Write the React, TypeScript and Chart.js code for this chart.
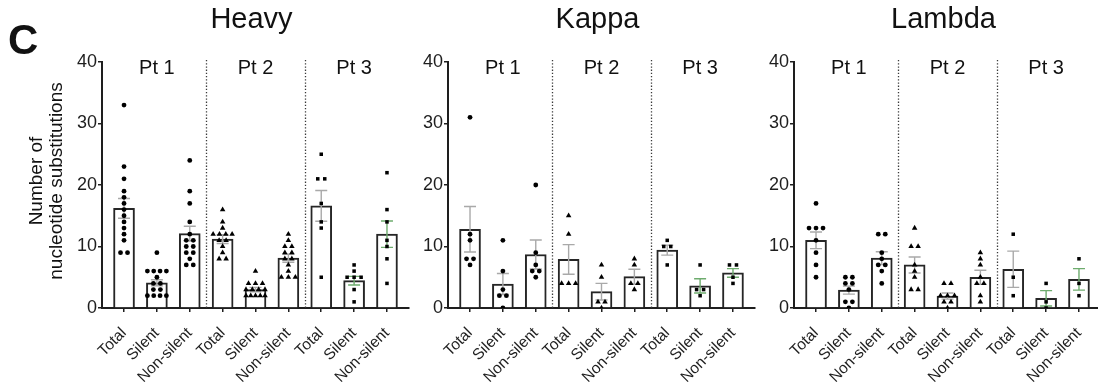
import React, { useEffect, useRef } from 'react';
import { Chart, registerables } from 'chart.js';

Chart.register(...registerables);

// ---------- data ----------
const xLabels = ['Total', 'Silent', 'Non-silent', 'Total', 'Silent', 'Non-silent', 'Total', 'Silent', 'Non-silent'];
const patientLabels = ['Pt 1', 'Pt 2', 'Pt 3'];
const panelTitles = ['Heavy', 'Kappa', 'Lambda'];
const yTicks = [0, 10, 20, 30, 40];
const yTitle = ['Number of', 'nucleotide substitutions'];
const panelLetter = 'C';

// Heavy chain: bar means (mean), SEM, individual sequences per category
const heavyMeans = [16.2, 4.1, 12.1, 11.2, 3.0, 8.1, 16.6, 4.45, 12.0];
const heavySem = [1.6, 0.5, 1.2, 0.7, 0.35, 0.65, 2.5, 0.7, 2.15];
const heavyPoints = [
  [33, 23, 21, 19, 18, 17, 16, 15, 14, 13, 12, 11, 9, 9],
  [9, 6, 6, 6, 6, 5, 4, 4, 3, 3, 2, 2, 2, 2],
  [24, 19, 17, 14, 12, 11, 11, 10, 10, 9, 9, 8, 7, 7],
  [16, 14, 13, 12, 12, 12, 12, 11, 11, 10, 9, 8, 8],
  [6, 4, 4, 4, 3, 3, 3, 3, 2, 2, 2, 2, 2],
  [12, 11, 10, 10, 9, 9, 8, 8, 7, 6, 5, 5, 5],
  [25, 21, 21, 17, 14, 13, 5],
  [7, 6, 5, 5, 5, 3, 1],
  [22, 16, 14, 11, 10, 8, 4],
];

// Kappa chain
const kappaMeans = [12.8, 3.9, 8.7, 7.9, 2.65, 5.1, 9.4, 3.6, 5.7];
const kappaSem = [3.7, 1.7, 2.35, 2.4, 1.35, 1.2, 0.8, 1.15, 0.7];
const kappaPoints = [
  [31, 12, 11, 8, 8, 7],
  [11, 6, 3, 2, 2, 0],
  [20, 9, 7, 6, 6, 5],
  [15, 12, 4, 4, 4],
  [7, 5, 1, 1, 0],
  [8, 7, 4, 4, 3],
  [11, 10, 10, 7],
  [7, 3, 3, 2],
  [7, 7, 5, 4],
];

// Lambda chain
const lambdaMeans = [11.0, 2.9, 8.1, 7.0, 1.95, 5.0, 6.3, 1.57, 4.65];
const lambdaSem = [1.35, 0.65, 1.05, 1.3, 0.5, 1.15, 2.95, 1.25, 1.75];
const lambdaPoints = [
  [17, 13, 13, 13, 11, 9, 7, 5],
  [5, 5, 4, 4, 3, 1, 1, 0],
  [12, 12, 9, 8, 7, 7, 6, 4],
  [13, 10, 10, 7, 6, 5, 3, 3],
  [4, 4, 2, 2, 2, 1, 1, 0],
  [9, 8, 7, 5, 4, 4, 2, 1],
  [12, 5, 2],
  [4, 1, 0],
  [8, 4, 2],
];

const panelMeans = [heavyMeans, kappaMeans, lambdaMeans];
const panelSem = [heavySem, kappaSem, lambdaSem];
const panelPoints = [heavyPoints, kappaPoints, lambdaPoints];

// ---------- style / layout ----------
const FONT = '"Liberation Sans", Arial, Helvetica, sans-serif';
const INK = '#1e1e1e';
const ERR_GRAY = '#a9a9a9';
const ERR_GREEN = '#6eac6e';
const errColors = [ERR_GRAY, ERR_GRAY, ERR_GRAY, ERR_GRAY, ERR_GRAY, ERR_GRAY, ERR_GRAY, ERR_GREEN, ERR_GREEN];
const markerStyles = ['circle', 'triangle', 'rect'];
const markerRadius = [2.4, 3.2, 2.5];
const X_MIN = -0.67;
const X_MAX = 8.67;
const PX_PER_UNIT = 307 / (X_MAX - X_MIN);

const panelGeom = [
  { left: 0, width: 420, yWidth: 102, padRight: 11 },
  { left: 415, width: 350, yWidth: 33, padRight: 10 },
  { left: 762, width: 345, yWidth: 32, padRight: 6 },
];

function swarm(values: number[], cat: number) {
  const counts = new Map<number, number>();
  values.forEach((v) => counts.set(v, (counts.get(v) || 0) + 1));
  const seen = new Map<number, number>();
  return values.map((v) => {
    const n = counts.get(v) as number;
    const k = seen.get(v) || 0;
    seen.set(v, k + 1);
    const stepPx = n > 1 ? Math.min(7, 19 / (n - 1)) : 0;
    return { x: cat + ((k - (n - 1) / 2) * stepPx) / PX_PER_UNIT, y: v };
  });
}

function Panel({ idx }: { idx: number }) {
  const ref = useRef<HTMLCanvasElement>(null);
  useEffect(() => {
    const g = panelGeom[idx];
    const means = panelMeans[idx];
    const sems = panelSem[idx];
    const pts = panelPoints[idx];

    const decor = {
      id: 'decor' + idx,
      beforeDatasetsDraw(chart: any) {
        const { ctx, chartArea, scales } = chart;
        ctx.save();
        ctx.strokeStyle = '#3a3a3a';
        ctx.lineWidth = 1.3;
        ctx.setLineDash([1.3, 1.9]);
        [2.5, 5.5].forEach((v) => {
          const x = Math.round(scales.x.getPixelForValue(v)) + 0.5;
          ctx.beginPath();
          ctx.moveTo(x, 60);
          ctx.lineTo(x, chartArea.bottom);
          ctx.stroke();
        });
        ctx.restore();
      },
      afterDatasetDraw(chart: any, args: any) {
        if (args.index !== 3) return;
        const { ctx, scales } = chart;
        ctx.save();
        ctx.lineWidth = 1.4;
        means.forEach((m, i) => {
          const x = scales.x.getPixelForValue(i);
          const yt = scales.y.getPixelForValue(m + sems[i]);
          const yb = scales.y.getPixelForValue(Math.max(0, m - sems[i]));
          ctx.strokeStyle = errColors[i];
          ctx.beginPath();
          ctx.moveTo(x, yt);
          ctx.lineTo(x, yb);
          ctx.moveTo(x - 6, yt);
          ctx.lineTo(x + 6, yt);
          ctx.moveTo(x - 6, yb);
          ctx.lineTo(x + 6, yb);
          ctx.stroke();
        });
        ctx.restore();
      },
      afterDraw(chart: any) {
        const { ctx, chartArea, scales } = chart;
        ctx.save();
        ctx.fillStyle = '#111';
        ctx.textAlign = 'center';
        ctx.textBaseline = 'alphabetic';
        ctx.font = `29px ${FONT}`;
        ctx.fillText(panelTitles[idx], (chartArea.left + chartArea.right) / 2 - 4, 28);
        ctx.font = `20px ${FONT}`;
        patientLabels.forEach((p, k) => {
          ctx.fillText(p, scales.x.getPixelForValue(1 + 3 * k), 74);
        });
        if (idx === 0) {
          ctx.textAlign = 'left';
          ctx.font = `bold 42px ${FONT}`;
          ctx.fillText(panelLetter, 8, 54);
          ctx.font = `19px ${FONT}`;
          ctx.textAlign = 'center';
          ctx.textBaseline = 'middle';
          [37, 57].forEach((x, k) => {
            ctx.save();
            ctx.translate(x, 181);
            ctx.rotate(-Math.PI / 2);
            ctx.fillText(yTitle[k], 0, 0);
            ctx.restore();
          });
        }
        ctx.restore();
      },
    };

    const scatterSets = [0, 1, 2].map((p) => ({
      type: 'scatter' as const,
      data: [0, 1, 2].flatMap((j) => swarm(pts[p * 3 + j], p * 3 + j)),
      pointStyle: markerStyles[p],
      pointRadius: markerRadius[p],
      pointBackgroundColor: '#000',
      pointBorderColor: '#000',
      pointBorderWidth: 0,
      xAxisID: 'x',
      yAxisID: 'y',
    }));

    const chart = new Chart(ref.current as HTMLCanvasElement, {
      type: 'bar',
      data: {
        datasets: [
          ...scatterSets,
          {
            type: 'bar' as const,
            data: means.map((m, i) => ({ x: i, y: m })),
            backgroundColor: '#ffffff',
            borderColor: '#262626',
            borderWidth: 2,
            barThickness: 21,
            xAxisID: 'x',
            yAxisID: 'y',
          },
        ] as any,
      },
      options: {
        responsive: false,
        animation: false,
        devicePixelRatio: 1,
        layout: { padding: { left: 0, right: g.padRight, top: 62, bottom: 0 } },
        plugins: { legend: { display: false }, tooltip: { enabled: false }, title: { display: false } },
        scales: {
          x: {
            type: 'linear',
            min: X_MIN,
            max: X_MAX,
            offset: false,
            afterBuildTicks: (s: any) => {
              s.ticks = xLabels.map((_, i) => ({ value: i }));
            },
            afterFit: (s: any) => {
              s.height = 75;
            },
            ticks: {
              autoSkip: false,
              maxRotation: 45,
              minRotation: 45,
              padding: 12,
              color: INK,
              font: { family: FONT, size: 15.5 },
              callback: (_v: any, i: number) => xLabels[i],
            },
            grid: { display: true, drawOnChartArea: false, drawTicks: true, tickLength: 4, color: INK, lineWidth: 1.5, offset: false },
            border: { display: true, color: INK, width: 2 },
          },
          y: {
            type: 'linear',
            min: 0,
            max: 40,
            afterBuildTicks: (s: any) => {
              s.ticks = yTicks.map((v) => ({ value: v }));
            },
            afterFit: (s: any) => {
              s.width = g.yWidth;
            },
            ticks: { padding: 1, color: INK, font: { family: FONT, size: 18 } },
            grid: { display: true, drawOnChartArea: false, drawTicks: true, tickLength: 4, color: INK, lineWidth: 1.5 },
            border: { display: true, color: INK, width: 2 },
          },
        },
      } as any,
      plugins: [decor],
    });
    return () => chart.destroy();
  }, [idx]);

  const g = panelGeom[idx];
  return (
    <canvas
      ref={ref}
      width={g.width}
      height={383}
      style={{ position: 'absolute', left: g.left, top: 0, width: g.width, height: 383 }}
    />
  );
}

export default function App() {
  return (
    <div
      style={{
        position: 'absolute',
        left: 0,
        top: 0,
        width: 1098,
        height: 383,
        overflow: 'hidden',
        background: '#ffffff',
      }}
    >
      <Panel idx={0} />
      <Panel idx={1} />
      <Panel idx={2} />
    </div>
  );
}
